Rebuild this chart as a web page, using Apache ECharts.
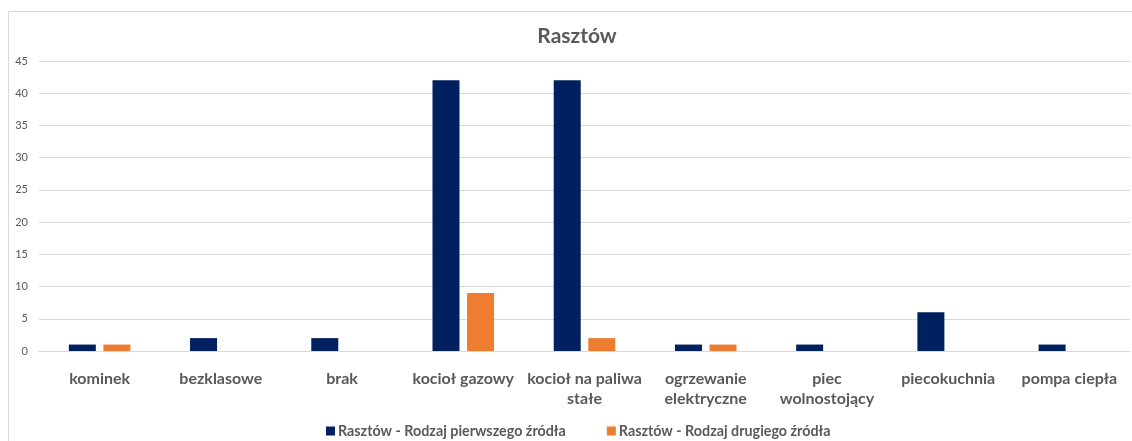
<!DOCTYPE html>
<html>
<head>
<meta charset="utf-8">
<script src="https://cdn.jsdelivr.net/npm/echarts@6/dist/echarts.min.js"></script>
<style>
  html, body { margin: 0; padding: 0; background: #fff; }
  #chart { width: 1132px; height: 441px; }
</style>
</head>
<body>
<div id="chart"></div>
<script>
// Heating source categories (line breaks as shown under the axis)
const categories = [
  'kominek',
  'bezklasowe',
  'brak',
  'kocioł gazowy',
  'kocioł na paliwa\nstałe',
  'ogrzewanie\nelektryczne',
  'piec\nwolnostojący',
  'piecokuchnia',
  'pompa ciepła'
];
const seriesNames = [
  'Rasztów - Rodzaj pierwszego źródła',
  'Rasztów - Rodzaj drugiego źródła'
];
const firstSource = [1, 2, 2, 42, 42, 1, 1, 6, 1];
const secondSource = [1, 0, 0, 9, 2, 1, 0, 0, 0];
const yTicks = { min: 0, max: 45, interval: 5 };

const FONT = 'Lato, "Open Sans", sans-serif';
const GREY = '#595959';

const chart = echarts.init(document.getElementById('chart'), null, { renderer: 'canvas' });
chart.setOption({
  backgroundColor: '#fff',
  animation: false,
  graphic: [{
    type: 'rect',
    shape: { x: 8.5, y: 11.5, width: 1140, height: 440 },
    style: { fill: 'none', stroke: '#d9d9d9', lineWidth: 1 },
    silent: true,
    z: -1
  }],
  title: {
    text: 'Rasztów',
    left: 572,
    top: 21,
    textAlign: 'center',
    textStyle: { fontFamily: FONT, fontSize: 21, fontWeight: 'bold', color: GREY }
  },
  legend: {
    left: 321,
    top: 419,
    itemWidth: 9,
    itemHeight: 9,
    itemGap: 41,
    icon: 'rect',
    textStyle: { fontFamily: FONT, fontSize: 14.3, fontWeight: 'bold', color: GREY, padding: [0, 0, 0, -2] },
    data: seriesNames
  },
  grid: { left: 39, right: 2, top: 61, bottom: 90, containLabel: false },
  xAxis: {
    type: 'category',
    data: categories,
    axisLine: { show: true, lineStyle: { color: '#d9d9d9', width: 1 } },
    axisTick: { show: false },
    axisLabel: {
      interval: 0,
      margin: 18,
      fontFamily: FONT,
      fontSize: 16,
      fontWeight: 'bold',
      color: GREY,
      lineHeight: 20
    }
  },
  yAxis: {
    type: 'value',
    min: yTicks.min,
    max: yTicks.max,
    interval: yTicks.interval,
    axisLine: { show: false },
    axisTick: { show: false },
    splitLine: { lineStyle: { color: '#d9d9d9', width: 1 } },
    axisLabel: { fontFamily: FONT, fontSize: 11, color: GREY, margin: 11 }
  },
  series: [
    {
      name: seriesNames[0],
      type: 'bar',
      data: firstSource,
      barWidth: 27,
      barGap: '28%',
      itemStyle: { color: '#002060' }
    },
    {
      name: seriesNames[1],
      type: 'bar',
      data: secondSource,
      barWidth: 27,
      itemStyle: { color: '#ED7D31' }
    }
  ]
});
</script>
</body>
</html>
